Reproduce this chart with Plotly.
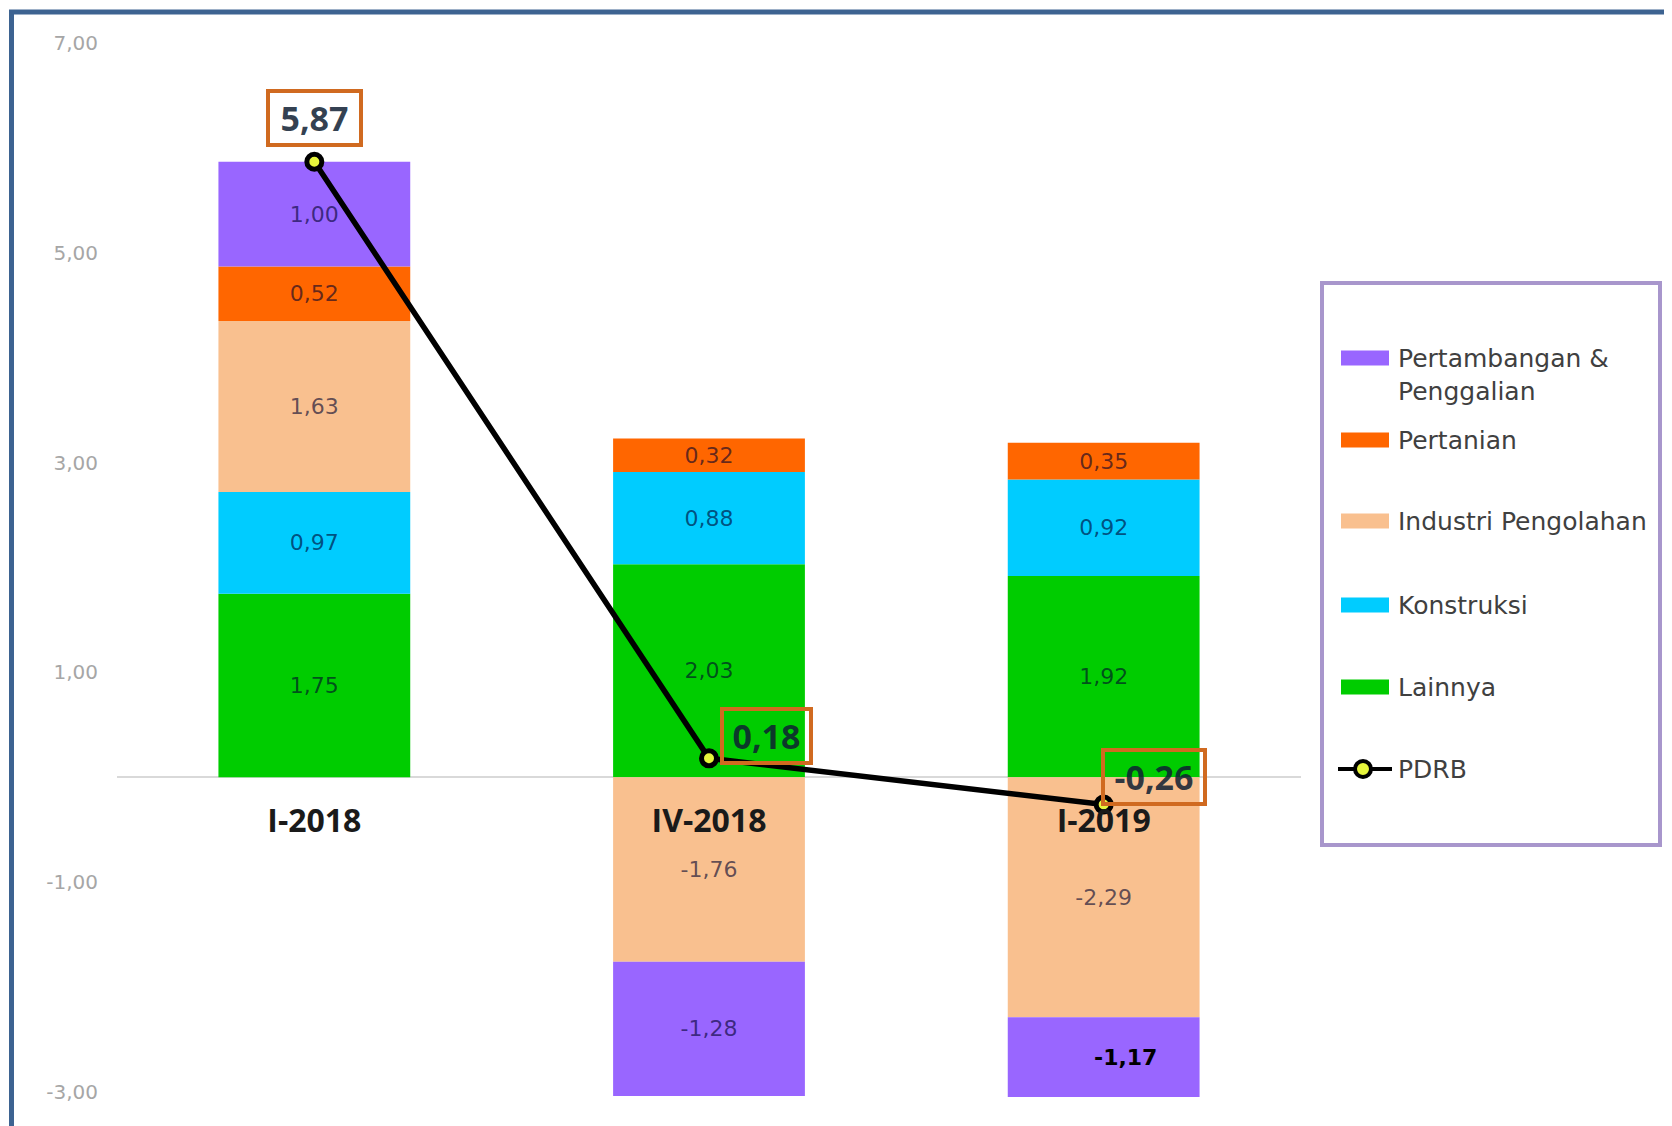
import plotly.graph_objects as go

# ---------------- data ----------------
categories = ["I-2018", "IV-2018", "I-2019"]
lainnya = [1.75, 2.03, 1.92]
konstruksi = [0.97, 0.88, 0.92]
industri = [1.63, -1.76, -2.29]
pertanian = [0.52, 0.32, 0.35]
pertambangan = [1.00, -1.28, -1.17]
pdrb = [5.87, 0.18, -0.26]
y_ticks = [7, 5, 3, 1, -1, -3]

name_lainnya = "Lainnya"
name_konstruksi = "Konstruksi"
name_industri = "Industri Pengolahan"
name_pertanian = "Pertanian"
name_pertambangan = "Pertambangan & Penggalian"
name_pdrb = "PDRB"


def fmt(v):
    return f"{v:.2f}".replace(".", ",")


# ---------------- styles ----------------
C_PURPLE = "#9966FF"
C_ORANGE = "#FF6600"
C_PEACH = "#F9C08F"
C_BLUE = "#00CCFF"
C_GREEN = "#00CC00"
C_MARK = "#E6F53C"
LABEL_COL = "rgba(0,0,45,0.62)"

OFF = 8  # page body margin of the html page
W, H = 1672, 1126
# plot area in page pixels
P_L, P_R, P_T, P_B = 117, 1301, 38, 1097
PL, PR, PT, PB = P_L - OFF, P_R - OFF, P_T - OFF, P_B - OFF
YMIN, YMAX = -3.05, 7.05


def px_x(px):
    return (px - OFF - PL) / (PR - PL)


def px_y(py):
    return (PB - (py - OFF)) / (PB - PT)


fig = go.Figure()

bar_series = [
    (name_lainnya, lainnya, C_GREEN),
    (name_konstruksi, konstruksi, C_BLUE),
    (name_industri, industri, C_PEACH),
    (name_pertanian, pertanian, C_ORANGE),
    (name_pertambangan, pertambangan, C_PURPLE),
]

# bars whose label sits on a clipped segment are labelled with an annotation
clipped = []
neg_base = [0.0] * len(categories)
for name, vals, col in bar_series:
    tt = []
    for i, v in enumerate(vals):
        if v < 0:
            lo = neg_base[i] + v
            if lo < YMIN:
                clipped.append((categories[i], v, (neg_base[i] + YMIN) / 2))
                tt.append("")
            else:
                tt.append("%{y:.2f}")
            neg_base[i] = lo
        else:
            tt.append("%{y:.2f}")
    fig.add_trace(go.Bar(
        x=categories, y=vals, name=name,
        marker=dict(color=col, line=dict(width=0)),
        texttemplate=tt, textposition="inside", insidetextanchor="middle",
        textangle=0, constraintext="none",
        textfont=dict(family="DejaVu Sans", size=22, color=LABEL_COL),
        showlegend=False, hoverinfo="skip",
    ))

fig.add_trace(go.Scatter(
    x=categories, y=pdrb, name=name_pdrb, mode="lines+markers",
    line=dict(color="#000000", width=5.5),
    marker=dict(size=15, color=C_MARK, line=dict(color="#000000", width=5)),
    cliponaxis=False, showlegend=False, hoverinfo="skip",
))

annotations = []
for cat, v, ymid in clipped:
    annotations.append(dict(
        x=cat, y=ymid, xref="x", yref="y", text=f"<b>{fmt(v)}</b>", showarrow=False,
        xshift=22, font=dict(family="DejaVu Sans", size=22, color="#000000"),
    ))

# PDRB value boxes: (xshift, yshift, background, box width)
box_specs = [(0, 44, "#FFFFFF", 85), (57, 22, "rgba(0,0,0,0)", 81), (50, 27, "rgba(0,0,0,0)", 94)]
for cat, v, (xs, ys, bg, bw) in zip(categories, pdrb, box_specs):
    annotations.append(dict(
        x=cat, y=v, xref="x", yref="y", text=fmt(v),
        showarrow=False, xshift=xs, yshift=ys, xanchor="center", yanchor="middle",
        font=dict(family="Open Sans", size=34, color="rgba(15,30,50,0.85)", weight="bold"),
        bgcolor=bg, bordercolor="#D06A20", borderwidth=4, borderpad=2,
        width=bw, height=46,
    ))

# ---------------- frame & custom legend ----------------
shapes = []
shapes.append(dict(type="rect", xref="paper", yref="paper",
                   x0=px_x(11.5), x1=px_x(1720), y0=px_y(1160), y1=px_y(12),
                   line=dict(color="#3D6391", width=5), fillcolor="rgba(0,0,0,0)", layer="above"))
shapes.append(dict(type="rect", xref="paper", yref="paper",
                   x0=px_x(1322), x1=px_x(1660), y0=px_y(845), y1=px_y(283),
                   line=dict(color="#A896CC", width=4), fillcolor="rgba(0,0,0,0)", layer="above"))

legend_items = [
    (C_PURPLE, 358, "Pertambangan &<br>Penggalian", 375),
    (C_ORANGE, 440, name_pertanian, 440),
    (C_PEACH, 521, name_industri, 521),
    (C_BLUE, 605, name_konstruksi, 605),
    (C_GREEN, 687, name_lainnya, 687),
]
LEG_FONT = dict(family="DejaVu Sans", size=25, color="#404040")
for col, ysym, label, ytxt in legend_items:
    shapes.append(dict(type="rect", xref="paper", yref="paper",
                       x0=px_x(1341), x1=px_x(1389), y0=px_y(ysym + 7.5), y1=px_y(ysym - 7.5),
                       line=dict(width=0), fillcolor=col, layer="above"))
    annotations.append(dict(x=px_x(1396), y=px_y(ytxt), xref="paper", yref="paper",
                            text=label, showarrow=False, xanchor="left", yanchor="middle",
                            align="left", font=LEG_FONT))
y_p = 769
shapes.append(dict(type="line", xref="paper", yref="paper",
                   x0=px_x(1338), x1=px_x(1392), y0=px_y(y_p), y1=px_y(y_p),
                   line=dict(color="#000000", width=4), layer="above"))
shapes.append(dict(type="circle", xref="paper", yref="paper",
                   x0=px_x(1355), x1=px_x(1371), y0=px_y(y_p + 8), y1=px_y(y_p - 8),
                   line=dict(color="#000000", width=4), fillcolor=C_MARK, layer="above"))
annotations.append(dict(x=px_x(1396), y=px_y(y_p), xref="paper", yref="paper",
                        text=name_pdrb, showarrow=False, xanchor="left", yanchor="middle",
                        font=LEG_FONT))

zero_pos = (0 - YMIN) / (YMAX - YMIN)

fig.update_layout(
    width=W, height=H,
    margin=dict(l=PL, r=W - PR, t=PT, b=H - PB, pad=0),
    paper_bgcolor="white", plot_bgcolor="white",
    barmode="relative", bargap=0.514,
    separators=",.",
    showlegend=False,
    xaxis=dict(range=[-0.5, 2.5], anchor="free", position=zero_pos, showline=False,
               showgrid=False, zeroline=False, ticks="", ticklabelstandoff=22,
               tickfont=dict(family="Open Sans", size=32, color="#1A1A1A", weight="bold"),
               layer="above traces"),
    yaxis=dict(range=[YMIN, YMAX], tickvals=y_ticks, ticktext=[fmt(v) for v in y_ticks],
               showgrid=False,
               zeroline=True, zerolinecolor="#D9D9D9", zerolinewidth=2, showline=False,
               ticks="", ticklabelstandoff=18,
               tickfont=dict(family="DejaVu Sans", size=20, color="#A6A6A6")),
    shapes=shapes,
    annotations=annotations,
)

fig.write_html("out.html")
